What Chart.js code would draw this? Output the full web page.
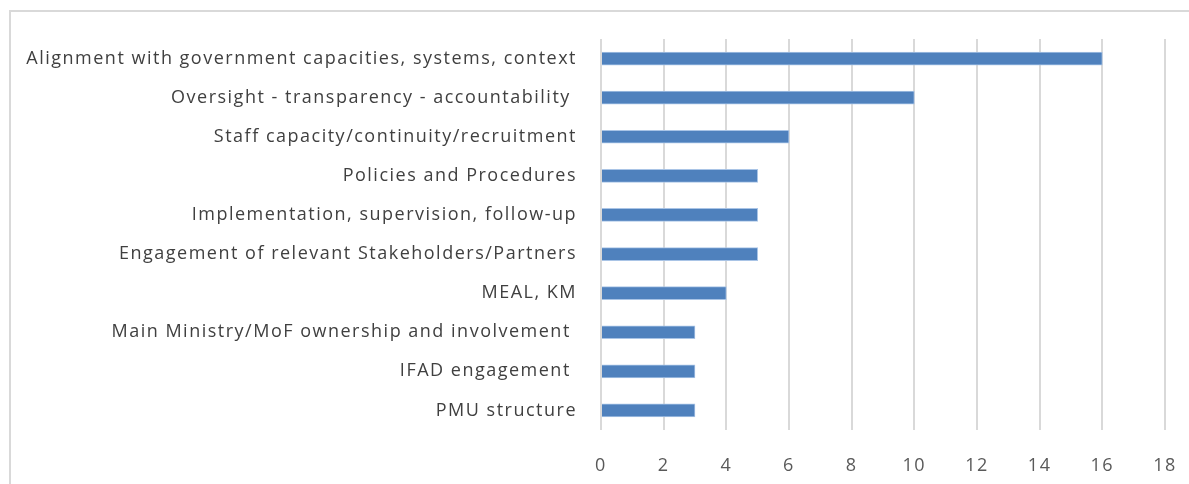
<!DOCTYPE html>
<html>
<head>
<meta charset="utf-8">
<script src="https://cdn.jsdelivr.net/npm/chart.js@4.4.0/dist/chart.umd.min.js"></script>
<style>
html,body{margin:0;padding:0;background:#fff;overflow:hidden;}
#wrap{position:absolute;left:0;top:0;width:1189px;height:484px;}
#frame{position:absolute;left:9px;top:10px;width:1200px;height:500px;border:2px solid #d9d9d9;box-sizing:border-box;}
canvas{position:absolute;left:0;top:0;}
</style>
</head>
<body>
<div id="wrap">
<div id="frame"></div>
<canvas id="c" width="1189" height="484"></canvas>
</div>
<script>
const categories = [
  "Alignment with government capacities, systems, context",
  "Oversight - transparency - accountability ",
  "Staff capacity/continuity/recruitment",
  "Policies and Procedures",
  "Implementation, supervision, follow-up",
  "Engagement of relevant Stakeholders/Partners",
  "MEAL, KM",
  "Main Ministry/MoF ownership and involvement ",
  "IFAD engagement ",
  "PMU structure"
];
const counts = [16, 10, 6, 5, 5, 5, 4, 3, 3, 3];
const xTicks = [0, 2, 4, 6, 8, 10, 12, 14, 16, 18];

const FONT = "Open Sans";
const spacingPlugin = {
  id: 'spacing',
  beforeUpdate(chart) { chart.ctx.letterSpacing = '1.5px'; },
  beforeDraw(chart) { chart.ctx.letterSpacing = '1.5px'; }
};
new Chart(document.getElementById('c'), {
  type: 'bar',
  data: {
    labels: categories,
    datasets: [{
      data: counts,
      backgroundColor: '#4f81bd',
      borderColor: '#a9c4e6',
      borderWidth: 1,
      barThickness: 13
    }]
  },
  plugins: [spacingPlugin],
  options: {
    indexAxis: 'y',
    responsive: false,
    animation: false,
    layout: { padding: { left: 0, right: 24, top: 39, bottom: 0 } },
    plugins: { legend: { display: false }, tooltip: { enabled: false } },
    scales: {
      x: {
        min: 0, max: 18,
        afterBuildTicks: s => { s.ticks = xTicks.map(v => ({ value: v })); },
        grid: { color: '#d9d9d9', lineWidth: 2, drawTicks: false },
        border: { display: false },
        ticks: { color: '#595959', font: { family: FONT, size: 18 }, padding: 25 },
        afterFit: s => { s.height = 54; s.paddingLeft = 0; s.paddingRight = 0; }
      },
      y: {
        grid: { display: false },
        border: { display: false },
        ticks: { color: '#404040', font: { family: FONT, size: 18 }, padding: 16 },
        afterFit: s => { s.width = 601; s.paddingTop = 0; s.paddingBottom = 0; }
      }
    }
  }
});
</script>
</body>
</html>
